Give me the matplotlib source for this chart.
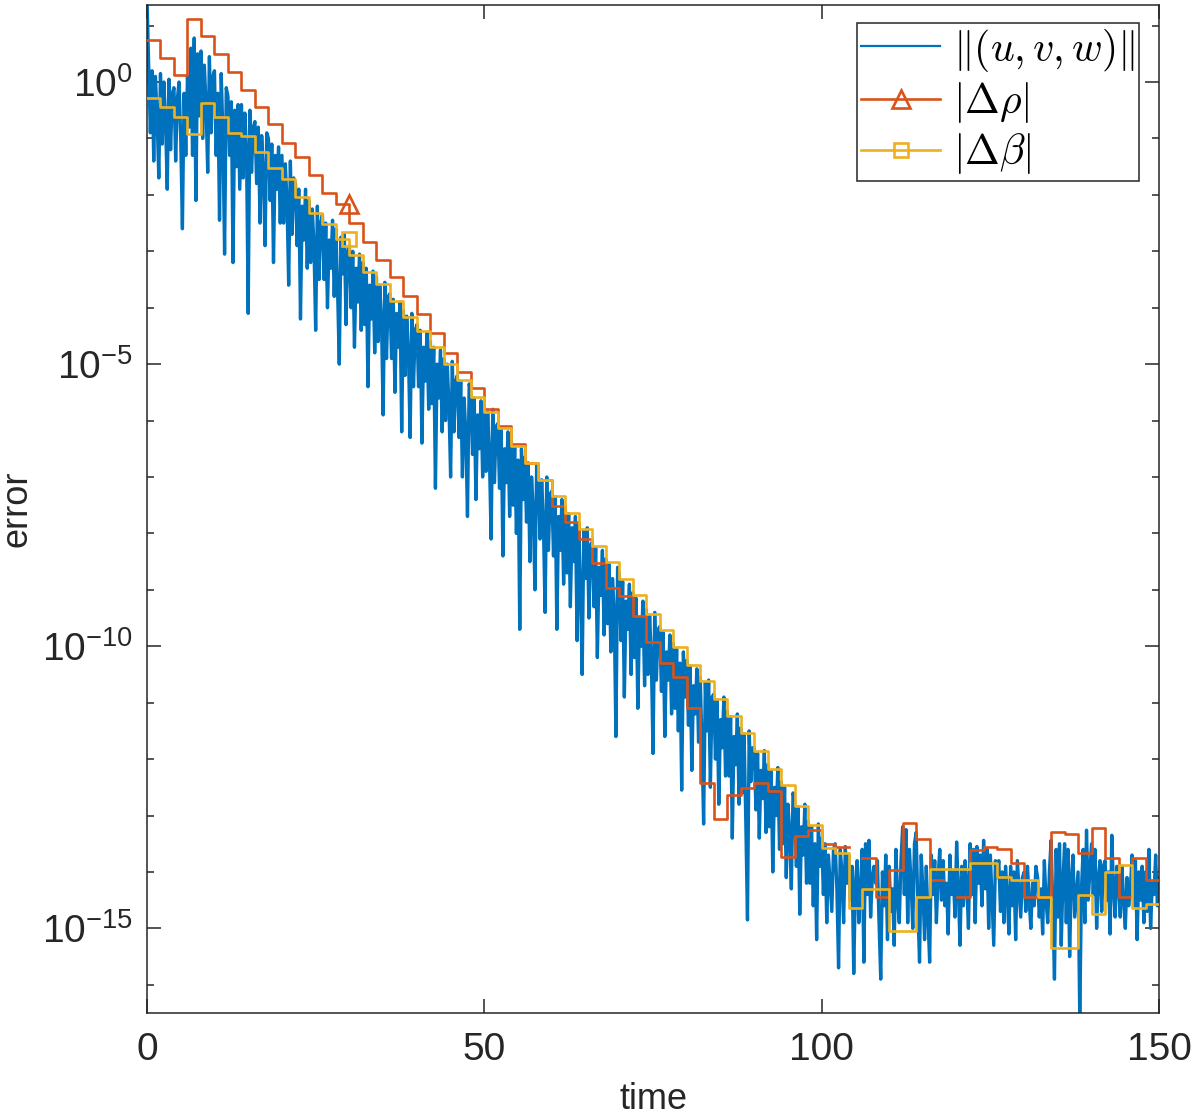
import numpy as np
import matplotlib
matplotlib.use("Agg")
import matplotlib.pyplot as plt
from matplotlib.lines import Line2D
from matplotlib.font_manager import FontProperties
from matplotlib.ticker import FixedLocator, FuncFormatter, NullFormatter

plt.rcParams['font.family'] = ['Liberation Sans', 'DejaVu Sans']
plt.rcParams['mathtext.fontset'] = 'custom'
plt.rcParams['mathtext.rm'] = 'Liberation Sans'

# log10 of ||(u,v,w)||, sampled every 0.25 time units (one row = 2 time units)
uvw_log = [
    1.5, 0.3, -0.9, 0.2, -1.4, 0.1, -0.6, -1.7,
    0.15, -1.1, 0.0, -0.7, -1.9, 0.05, -1.2, -0.2,
    -0.1, -1.4, -0.3, 0.0, -1.0, -2.6, -0.2, -1.3,
    0.1, -0.8, 0.6, -1.3, 0.78, -2.1, 0.5, -0.6,
    0.55, -1.0, 0.3, -0.4, -1.6, 0.45, -0.9, 0.1,
    0.2, -1.3, -0.2, -2.45, 0.15, -0.9, -3.05, -0.1,
    -0.25, -1.3, -0.35, -3.2, -0.5, -1.5, -0.4, -1.9,
    -0.4, -1.7, -0.55, -1.2, -4.1, -0.5, -1.6, -0.8,
    -0.7, -1.8, -0.8, -2.5, -0.95, -1.6, -2.9, -0.9,
    -1.0, -2.1, -1.1, -3.2, -1.3, -1.9, -1.15, -2.5,
    -1.3, -2.5, -1.45, -2.1, -3.6, -1.4, -2.7, -1.7,
    -1.8, -2.9, -1.9, -4.2, -2.2, -2.8, -1.9, -3.3,
    -2.1, -3.2, -2.25, -2.9, -4.4, -2.2, -3.5, -2.5,
    -2.35, -3.5, -2.5, -4.0, -2.8, -3.3, -2.45, -3.8,
    -2.6, -3.7, -5.0, -2.75, -3.4, -2.7, -4.3, -3.0,
    -2.9, -4.0, -3.0, -4.7, -3.3, -3.9, -3.05, -4.4,
    -3.2, -4.3, -3.3, -5.4, -3.6, -4.2, -3.35, -4.8,
    -3.45, -4.6, -3.6, -4.2, -5.9, -3.55, -4.9, -3.8,
    -3.75, -4.9, -3.85, -5.5, -4.1, -4.7, -3.9, -6.2,
    -4.05, -5.2, -4.15, -4.8, -6.3, -4.1, -5.4, -4.4,
    -4.3, -5.4, -4.4, -6.4, -4.7, -5.3, -4.45, -5.8,
    -4.6, -5.7, -4.7, -7.2, -5.0, -5.6, -4.75, -6.2,
    -4.9, -6.0, -5.0, -5.7, -7.0, -4.95, -6.2, -5.3,
    -5.2, -6.3, -5.3, -7.0, -5.6, -6.2, -7.7, -5.35,
    -5.5, -6.6, -5.6, -7.4, -5.9, -6.5, -5.65, -7.0,
    -5.75, -6.9, -5.85, -6.6, -8.1, -5.8, -7.1, -6.1,
    -6.05, -7.2, -6.15, -8.4, -6.5, -7.1, -6.2, -7.7,
    -6.35, -7.5, -6.45, -8.0, -6.7, -9.7, -6.5, -7.4,
    -6.65, -7.8, -6.75, -8.5, -7.0, -7.6, -9.0, -6.8,
    -6.95, -8.1, -7.05, -7.8, -9.4, -7.0, -8.3, -7.3,
    -7.25, -8.4, -7.35, -9.7, -7.7, -8.3, -7.4, -8.9,
    -7.55, -8.7, -7.65, -9.3, -7.9, -8.5, -7.7, -9.9,
    -7.85, -9.0, -10.5, -7.95, -8.8, -7.9, -9.5, -8.2,
    -8.15, -9.3, -8.25, -10.2, -8.6, -9.1, -8.3, -9.8,
    -8.45, -9.6, -8.55, -10.1, -8.8, -9.4, -11.6, -8.6,
    -8.75, -9.9, -8.85, -10.9, -9.2, -9.7, -8.9, -10.5,
    -9.05, -10.2, -9.15, -11.1, -9.5, -10.0, -9.2, -10.7,
    -9.35, -10.5, -9.45, -10.2, -11.9, -9.4, -10.6, -9.7,
    -9.65, -10.8, -9.75, -11.6, -10.1, -10.6, -9.8, -11.2,
    -9.95, -11.1, -10.05, -11.5, -10.3, -12.55, -10.1, -10.9,
    -10.25, -11.4, -10.35, -12.2, -10.7, -11.2, -10.4, -11.7,
    -10.55, -11.7, -13.15, -10.65, -11.5, -10.6, -12.5, -10.9,
    -10.85, -12.0, -10.95, -12.8, -11.3, -11.8, -10.9, -12.3,
    -11.15, -12.3, -11.25, -13.4, -11.6, -12.1, -11.2, -12.8,
    -11.45, -12.6, -11.55, -13.1, -14.85, -11.5, -12.4, -11.8,
    -11.8, -12.9, -11.9, -13.4, -12.2, -12.7, -11.85, -13.3,
    -12.1, -13.2, -12.2, -14.0, -12.5, -13.0, -12.15, -13.6,
    -12.4, -13.5, -12.5, -14.1, -12.8, -13.3, -14.3, -12.6,
    -12.75, -13.9, -12.85, -14.75, -13.2, -13.7, -12.8, -14.2,
    -13.1, -14.2, -13.2, -14.6, -13.5, -15.2, -13.15, -13.9,
    -13.4, -14.4, -13.5, -14.9, -13.7, -14.2, -14.7, -13.6,
    -13.5, -14.3, -15.7, -13.6, -14.0, -14.9, -13.55, -14.2,
    -13.7, -14.5, -13.9, -15.8, -14.2, -13.8, -14.9, -14.3,
    -13.6, -15.6, -13.5, -14.4, -13.44, -14.8, -14.1, -13.9,
    -14.2, -13.8, -14.9, -15.9, -14.0, -14.6, -13.7, -15.2,
    -13.9, -14.7, -14.3, -15.3, -13.6, -14.5, -14.9, -13.8,
    -13.2, -14.4, -13.25, -14.9, -13.6, -14.2, -15.0, -13.5,
    -13.3, -14.6, -15.6, -13.7, -14.3, -15.2, -13.9, -14.8,
    -15.6, -13.7, -14.4, -13.8, -14.9, -14.1, -13.6, -14.5,
    -13.8, -14.6, -14.2, -15.1, -13.7, -14.4, -14.0, -14.8,
    -13.47, -14.3, -15.3, -13.9, -14.6, -13.8, -14.2, -15.0,
    -13.5, -14.4, -13.6, -14.9, -13.55, -14.2, -13.7, -14.6,
    -13.44, -14.3, -13.6, -15.0, -13.7, -14.5, -15.3, -13.8,
    -14.1, -13.8, -14.7, -14.0, -14.9, -13.9, -14.4, -15.1,
    -13.9, -14.6, -14.0, -15.2, -13.8, -14.3, -14.8, -14.1,
    -14.0, -14.7, -13.9, -14.5, -15.0, -14.2, -14.6, -13.9,
    -14.1, -14.8, -14.3, -15.1, -13.8, -14.5, -14.9, -14.0,
    -13.44, -14.6, -15.9, -13.6, -14.8, -13.5, -15.3, -14.2,
    -13.5, -14.9, -13.6, -15.5, -14.1, -13.7, -14.8, -14.4,
    -14.0, -16.6, -14.3, -13.6, -14.9, -13.26, -14.5, -14.0,
    -13.5, -14.4, -13.6, -15.0, -14.1, -13.8, -14.7, -13.9,
    -13.8, -14.5, -14.0, -15.1, -13.35, -14.3, -14.8, -13.9,
    -14.2, -14.8, -13.9, -14.5, -15.0, -14.1, -14.6, -14.3,
    -13.7, -14.6, -13.8, -15.2, -14.0, -14.5, -13.9, -14.9,
    -14.0, -14.7, -13.6, -15.0, -14.2, -14.4, -13.7, -14.6,
    -14.1,
]

# log10 of |d rho| and |d beta|, one value per 2-unit step starting at t = 0, 2, ..., 148
rho_log = [
    0.745, 0.43, 0.124, 1.117, 0.816, 0.496, 0.183, -0.142, -0.449, -0.745,
    -1.076, -1.335, -1.643, -1.962, -2.163, -2.494, -2.83, -3.156, -3.463, -3.794,
    -4.113, -4.445, -4.81, -5.136, -5.431, -5.80, -6.099, -6.424, -6.75, -7.045,
    -7.52, -7.80, -8.10, -8.52, -8.96, -9.11, -9.47, -9.93, -10.30, -10.55,
    -11.10, -12.43, -13.06, -12.64, -12.52, -12.42, -12.57, -13.735, -13.37, -13.26,
    -13.50, -13.55, np.nan, -13.75, -14.445, -13.97, -13.14, -13.41, -14.14, np.nan,
    -14.445, -13.62, -13.55, -13.60, -13.84, -14.445, -14.445, -13.30, -13.32, -13.66,
    -13.22, -13.75, -14.445, -13.75, -14.14,
]
beta_log = [
    -0.278, -0.437, -0.615, -0.922, -0.367, -0.626, -0.910, -0.957, -1.235, -1.531,
    -1.72, -2.03, -2.317, -2.518, -2.79, -3.067, -3.363, -3.58, -3.877, -4.172,
    -4.409, -4.693, -5.0, -5.284, -5.59, -5.846, -6.14, -6.448, -6.75, -7.045,
    -7.335, -7.63, -7.925, -8.22, -8.505, -8.80, -9.096, -9.42, -9.716, -10.02,
    -10.34, -10.62, -10.93, -11.24, -11.54, -11.86, -12.17, -12.46, -12.83, -13.17,
    -13.57, -13.67, -14.64, -14.31, -14.31, -15.05, -15.05, -14.445, -13.95, -13.95,
    -13.95, -13.84, -13.84, -14.09, -14.15, -14.15, -14.445, -15.35, -15.35, -14.40,
    -14.74, -14.0, -13.87, -14.64, -14.575,
]
step_width = 2.0
marker_time = 30

blue = '#0072BD'
orange = '#D95319'
yellow = '#EDB120'
dark = '#262626'

t_uvw = np.arange(len(uvw_log)) * 0.25
uvw = 10.0 ** np.array(uvw_log)

step_left = np.arange(len(rho_log)) * step_width


def stairs(vals):
    x = np.repeat(step_left, 2)
    x[1::2] += step_width
    y = np.repeat(10.0 ** np.array(vals, dtype=float), 2)
    return x, y


rx, ry = stairs(rho_log)
bx, by = stairs(beta_log)
# the marker sits at the right end of the step that finishes at t = 30
mi = int(np.where(rx == marker_time)[0][0])

fig = plt.figure(figsize=(11.96, 11.16), dpi=100)
ax = fig.add_axes([0.1229, 0.0923, 0.9691 - 0.1229, 0.9955 - 0.0923])

ax.semilogy(t_uvw, uvw, color=blue, lw=2.4, zorder=2)
ax.semilogy(rx, ry, color=orange, lw=1.9, zorder=3)
ax.semilogy(bx, by, color=yellow, lw=1.9, zorder=4)
ax.plot(rx[mi], ry[mi], '^', ms=13, mfc='none', mec=orange, mew=1.9, zorder=5)
ax.plot(bx[mi], by[mi], 's', ms=10, mfc='none', mec=yellow, mew=1.9, zorder=5)

ax.set_xlim(0, 150)
ax.set_ylim(10 ** -16.5, 10 ** 1.365)
ax.xaxis.set_major_locator(FixedLocator([0, 50, 100, 150]))
ax.yaxis.set_major_locator(FixedLocator([1e-15, 1e-10, 1e-5, 1e0]))
ax.yaxis.set_minor_locator(FixedLocator([10.0 ** k for k in range(-16, 2)]))
ax.yaxis.set_minor_formatter(NullFormatter())
ax.yaxis.set_major_formatter(FuncFormatter(
    lambda v, _: r'$\mathregular{10^{%d}}$' % round(np.log10(v))))

ax.tick_params(which='both', direction='in', top=True, right=True,
               colors=dark, labelsize=28, width=1.1)
ax.tick_params(which='major', length=10)
ax.tick_params(which='minor', length=5)
ax.tick_params(axis='x', pad=14)
ax.tick_params(axis='y', pad=10)
for sp in ax.spines.values():
    sp.set_color(dark)
    sp.set_linewidth(1.1)

ax.set_xlabel('time', fontsize=26, color=dark)
ax.set_ylabel('error', fontsize=26, color=dark)
ax.xaxis.set_label_coords(0.5, -0.068)
ax.yaxis.set_label_coords(-0.111, 0.5)

handles = [
    Line2D([], [], color=blue, lw=1.6),
    Line2D([], [], color=orange, lw=1.9, marker='^', ms=13, mfc='none', mew=1.9),
    Line2D([], [], color=yellow, lw=1.9, marker='s', ms=10, mfc='none', mew=1.9),
]
labels = [r'$\|(u,v,w)\|$', r'$|\Delta\rho|$', r'$|\Delta\beta|$']
leg = ax.legend(handles, labels, loc='upper right',
                bbox_to_anchor=((1139 - 147) / 1012, 1 - (22.7 - 5) / 1008),
                borderaxespad=0, fancybox=False, framealpha=1, edgecolor=dark,
                prop=FontProperties(size=30, math_fontfamily='cm'),
                handlelength=1.9, handletextpad=0.3, labelspacing=0.15,
                borderpad=0.1, numpoints=1)
leg.get_frame().set_linewidth(1.1)

fig.savefig('out.png', dpi=100)
